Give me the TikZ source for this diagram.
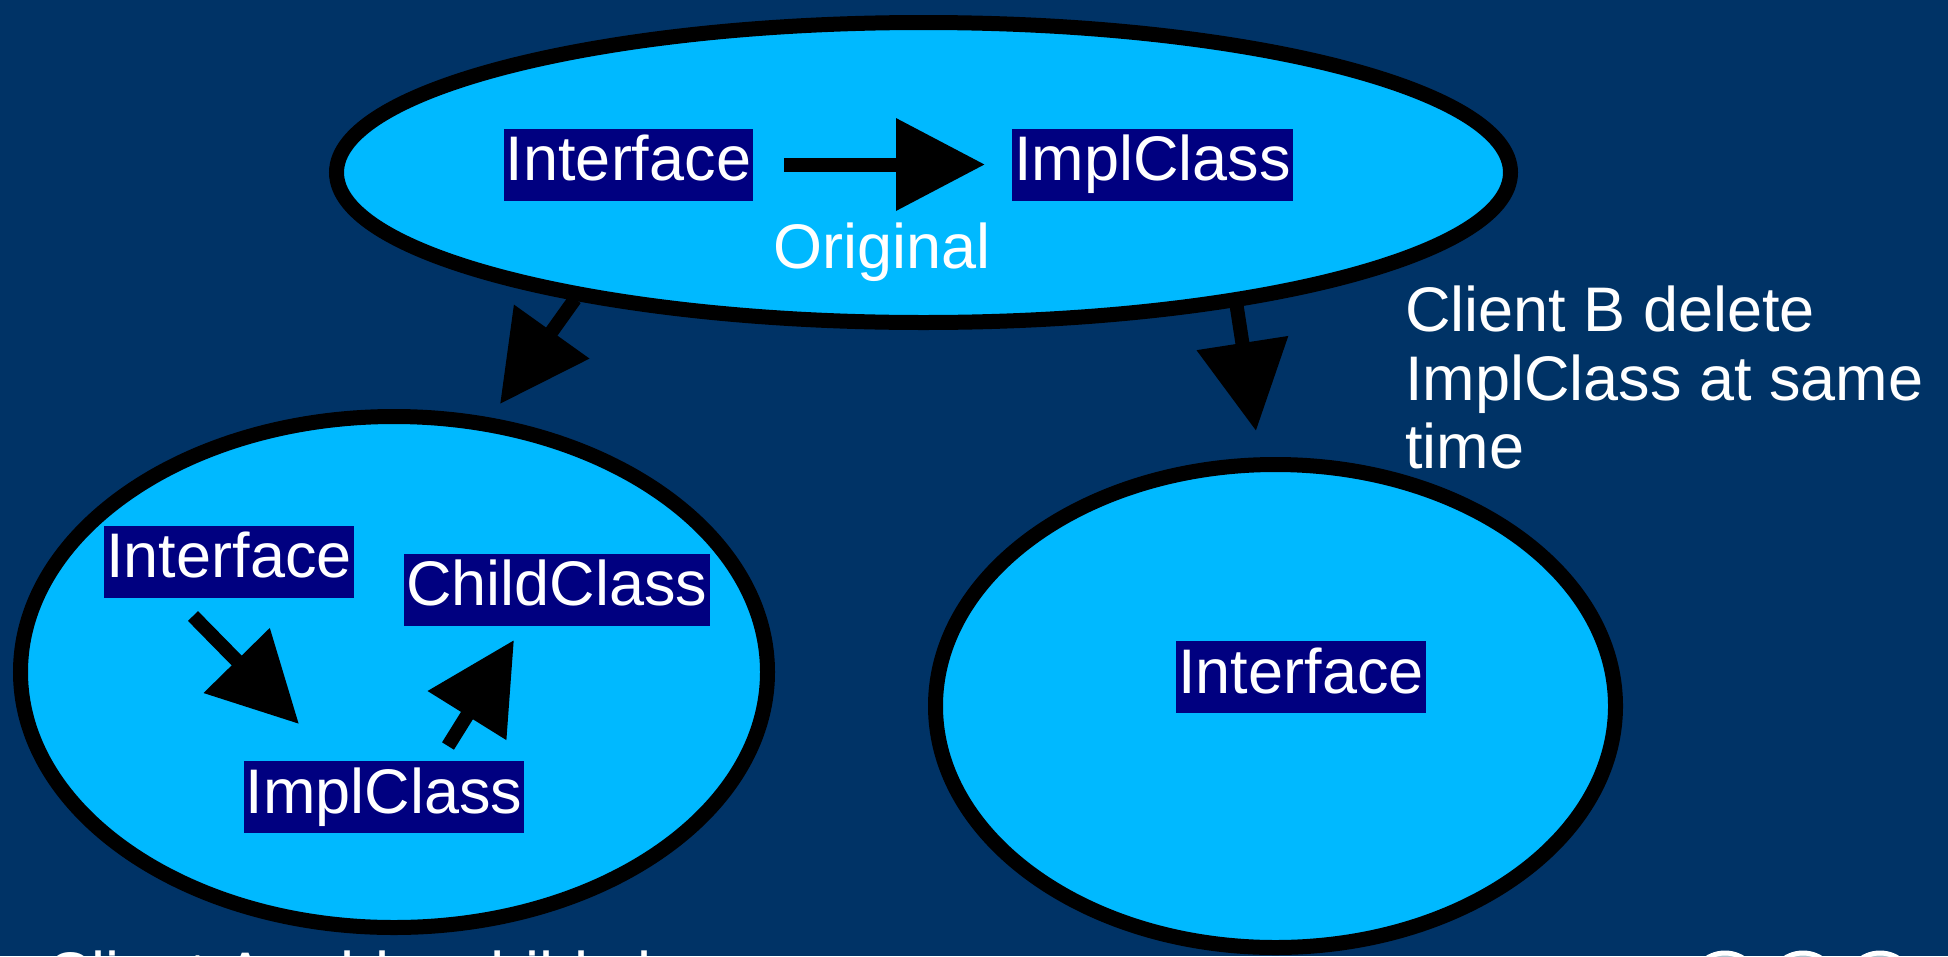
\documentclass[tikz,border=0pt]{standalone}
\usepackage{fontspec}
\setmainfont{Liberation Sans}
\usetikzlibrary{shapes.geometric,arrows.meta}
\definecolor{bgblue}{RGB}{0,51,102}
\definecolor{cloudblue}{RGB}{0,185,255}
\definecolor{labelnavy}{RGB}{0,0,128}
\definecolor{discgrey}{RGB}{176,196,208}
\begin{document}
\begin{tikzpicture}[x=1pt,y=-1pt,
  bubble/.style={ellipse, draw=black, fill=cloudblue, line width=15pt, inner sep=0pt},
  classbox/.style={fill=labelnavy, text=white, inner xsep=2pt, inner ysep=0pt,
    text height=52pt, text depth=20pt, font=\fontsize{63}{68.5}\selectfont},
  note/.style={text=white, inner sep=0pt, font=\fontsize{63}{68.5}\selectfont},
  link/.style={line width=14pt, -{Triangle[length=89pt,width=89pt]}},
  disc/.style={circle, draw=white, fill=discgrey, line width=5pt, minimum size=68pt, inner sep=0pt}
]
\useasboundingbox (0,0) rectangle (1948,956);
\fill[bgblue] (0,0) rectangle (1948,956);

% ellipses
\node[bubble, minimum width=1174pt, minimum height=300pt] (orig) at (923.5,172.5) {};
\node[bubble, minimum width=747pt, minimum height=511pt] (clientA) at (394,672) {};
\node[bubble, minimum width=680pt, minimum height=483pt] (clientB) at (1275.5,706) {};

% class boxes
\node[classbox] (oIface) at (628.5,164.5) {Interface};
\node[classbox] (oImpl) at (1152.5,164.5) {ImplClass};
\node[classbox] (aIface) at (229,561.5) {Interface};
\node[classbox] (aChild) at (557,589.5) {ChildClass};
\node[classbox] (aImpl) at (384,797) {ImplClass};
\node[classbox] (bIface) at (1301,677) {Interface};

% connector end points
\coordinate (oS) at (784,164.5);
\coordinate (oT) at (985,164.5);
\coordinate (dLS) at (575,299);
\coordinate (dLT) at (500,404);
\coordinate (dRS) at (1236.5,305);
\coordinate (dRT) at (1256,431);
\coordinate (aS1) at (193,616);
\coordinate (aT1) at (299,724);
\coordinate (aS2) at (448,746);
\coordinate (aT2) at (514,640);

\draw[link] (oS) -- (oT);
\draw[link] (dLS) -- (dLT);
\draw[link] (dRS) -- (dRT);
\draw[link] (aS1) -- (aT1);
\draw[link] (aS2) -- (aT2);

% texts
\node[note, anchor=base] (origLbl) at (882,268) {Original};
\node[note, anchor=north west, align=left] (bLbl) at (1405,286)
  {Client B delete\\ImplClass at same\\time};
\node[note, anchor=base west] (aLbl) at (46,996) {Client A add a child class};

% partially visible discs
\node[disc] (q1) at (1725,987) {};
\node[disc] (q2) at (1803,987) {};
\node[disc] (q3) at (1880,987) {};
\end{tikzpicture}
\end{document}
